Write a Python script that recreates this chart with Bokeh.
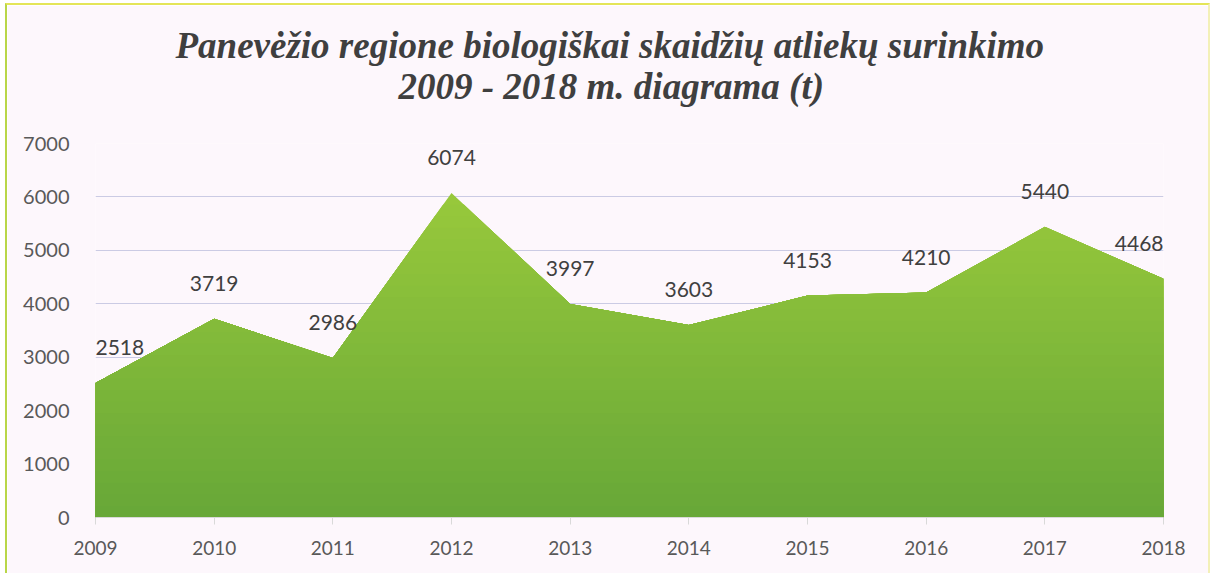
import numpy as np
from bokeh.plotting import figure
from bokeh.models import Range1d, Title, FixedTicker, ColumnDataSource, LabelSet
from bokeh.core.properties import value
from bokeh.embed import file_html
from bokeh.resources import INLINE

# ---- data ----
years = [2009, 2010, 2011, 2012, 2013, 2014, 2015, 2016, 2017, 2018]
amounts = [2518, 3719, 2986, 6074, 3997, 3603, 4153, 4210, 5440, 4468]
y_ticks = [0, 1000, 2000, 3000, 4000, 5000, 6000, 7000]
title_line1 = "Panevėžio regione biologiškai skaidžių atliekų surinkimo"
title_line2 = "2009 - 2018 m. diagrama (t)"

BG = "#fdf7fc"
TXT = "#595959"


def clip_top(xs, ys, level):
    """Polyline min(f(x), level) with exact crossing points inserted."""
    ox, oy = [], []
    for i in range(len(xs)):
        if i > 0:
            x0, y0, x1, y1 = xs[i - 1], ys[i - 1], xs[i], ys[i]
            if (y0 - level) * (y1 - level) < 0:
                t = (level - y0) / (y1 - y0)
                ox.append(x0 + t * (x1 - x0))
                oy.append(level)
        ox.append(xs[i])
        oy.append(min(ys[i], level))
    return ox, oy


def mix(c1, c2, t):
    a = [int(c1[i:i + 2], 16) for i in (1, 3, 5)]
    b = [int(c2[i:i + 2], 16) for i in (1, 3, 5)]
    return "#" + "".join("%02x" % int(round(a[k] + (b[k] - a[k]) * t)) for k in range(3))


p = figure(width=1205, height=570, output_backend="svg", toolbar_location=None,
           x_range=Range1d(years[0], years[-1]), y_range=Range1d(0, 7000),
           min_border_left=88, min_border_right=49, min_border_top=138, min_border_bottom=58,
           background_fill_color=BG, border_fill_color=BG, outline_line_color=None)
p.styles = {"margin-left": "5px", "margin-top": "3px",
            "border-left": "2px solid #b9d648", "border-top": "2px solid #e4e558",
            "border-right": "2px solid #f3f0b8"}

# titles (first added sits closest to the frame)
t2 = Title(text=title_line2, align="left", text_font="Liberation Serif",
           text_font_style="bold italic", text_font_size="37px", text_color="#3f3f3f",
           offset=303, standoff=74)
t1 = Title(text=title_line1, align="left", text_font="Liberation Serif",
           text_font_style="bold italic", text_font_size="37px", text_color="#3f3f3f",
           offset=80, standoff=-79)
p.add_layout(t2, "above")
p.add_layout(t1, "above")

# gradient area built from horizontal bands
top_c, bot_c = "#97c83b", "#68a838"
vmax = max(amounts)
n = 28
for k in range(n):
    level = vmax * (1 - k / n)
    xs, ys = clip_top(years, amounts, level)
    p.varea(x=xs, y1=[0] * len(xs), y2=ys, fill_color=mix(top_c, bot_c, k / (n - 1)),
            fill_alpha=1.0)

# data labels (kept inside the plot area at the edges)
aligns = ["center"] * len(years)
aligns[0] = "left"
aligns[-1] = "right"
src = ColumnDataSource(dict(x=years, y=amounts, t=[str(v) for v in amounts], a=aligns))
labels = LabelSet(x="x", y="y", text="t", source=src, text_align="a",
                  text_font=value("Lato"), text_font_size="21px", text_color="#404040",
                  text_baseline="alphabetic", y_offset=28)
p.add_layout(labels)

# axes
p.xaxis.ticker = FixedTicker(ticks=years)
p.xaxis.axis_line_color = "#d9d9d9"
p.xaxis.major_tick_line_color = "#d9d9d9"
p.xaxis.major_tick_out = 7
p.xaxis.major_tick_in = 0
p.xaxis.minor_tick_line_color = None
p.xaxis.major_label_standoff = 16

p.yaxis.ticker = FixedTicker(ticks=y_ticks)
p.yaxis.axis_line_color = None
p.yaxis.major_tick_line_color = None
p.yaxis.minor_tick_line_color = None
p.yaxis.major_label_standoff = 20

for ax in (p.xaxis, p.yaxis):
    ax.major_label_text_font = "Lato"
    ax.major_label_text_color = TXT
p.xaxis.major_label_text_font_size = "19px"
p.yaxis.major_label_text_font_size = "20px"

p.xgrid.grid_line_color = None
p.ygrid.grid_line_color = "#cbcbe4"
p.ygrid.grid_line_width = 1

open("out.html", "w").write(file_html(p, INLINE))
